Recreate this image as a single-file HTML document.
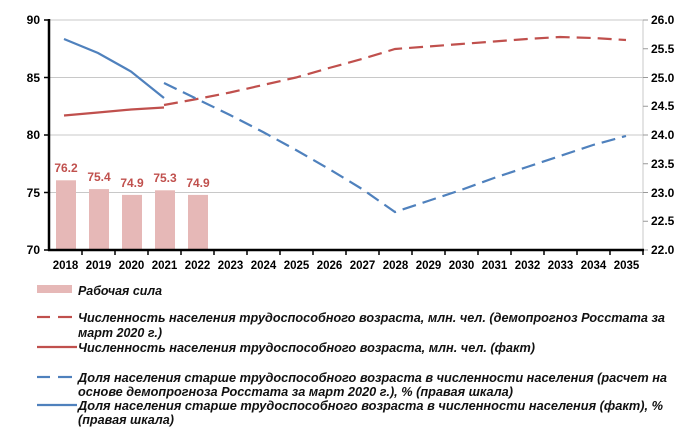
<!DOCTYPE html>
<html><head><meta charset="utf-8"><style>body{margin:0;background:#fff}svg{display:block}</style></head><body>
<svg width="700" height="428" viewBox="0 0 700 428" xmlns="http://www.w3.org/2000/svg" font-family="Liberation Sans, sans-serif">
<g stroke="#c8c8c8" stroke-width="1">
<line x1="49" y1="20" x2="643" y2="20"/><line x1="49" y1="77.5" x2="643" y2="77.5"/><line x1="49" y1="135" x2="643" y2="135"/><line x1="49" y1="192.5" x2="643" y2="192.5"/>
<line x1="643" y1="20" x2="643" y2="250"/>
</g>
<g stroke="#999" stroke-width="1">
<line x1="643" y1="20" x2="648" y2="20"/><line x1="643" y1="48.75" x2="648" y2="48.75"/><line x1="643" y1="77.5" x2="648" y2="77.5"/><line x1="643" y1="106.25" x2="648" y2="106.25"/><line x1="643" y1="135" x2="648" y2="135"/><line x1="643" y1="163.75" x2="648" y2="163.75"/><line x1="643" y1="192.5" x2="648" y2="192.5"/><line x1="643" y1="221.25" x2="648" y2="221.25"/><line x1="643" y1="250" x2="648" y2="250"/>
</g>
<g fill="#e6b8b7">
<rect x="56" y="180.3" width="20" height="69.7"/><rect x="89" y="189.1" width="20" height="60.9"/><rect x="122" y="194.9" width="20" height="55.1"/><rect x="155" y="190.3" width="20" height="59.7"/><rect x="188" y="194.9" width="20" height="55.1"/>
</g>
<g fill="#c0504d" font-size="12" font-weight="bold" text-anchor="middle">
<text x="66" y="172">76.2</text><text x="99" y="181">75.4</text><text x="132" y="187">74.9</text><text x="165" y="182">75.3</text><text x="198" y="187">74.9</text>
</g>
<g stroke="#000" stroke-width="2.5" fill="none">
<line x1="49" y1="19" x2="49" y2="251"/><line x1="48" y1="250" x2="644" y2="250"/>
</g>
<g stroke="#000" stroke-width="1.5">
<line x1="44" y1="20" x2="49" y2="20"/><line x1="44" y1="77.5" x2="49" y2="77.5"/><line x1="44" y1="135" x2="49" y2="135"/><line x1="44" y1="192.5" x2="49" y2="192.5"/><line x1="44" y1="250" x2="49" y2="250"/>
<line x1="82" y1="250" x2="82" y2="255"/><line x1="115" y1="250" x2="115" y2="255"/><line x1="148" y1="250" x2="148" y2="255"/><line x1="181" y1="250" x2="181" y2="255"/><line x1="214" y1="250" x2="214" y2="255"/><line x1="247" y1="250" x2="247" y2="255"/><line x1="280" y1="250" x2="280" y2="255"/><line x1="313" y1="250" x2="313" y2="255"/><line x1="346" y1="250" x2="346" y2="255"/><line x1="379" y1="250" x2="379" y2="255"/><line x1="412" y1="250" x2="412" y2="255"/><line x1="445" y1="250" x2="445" y2="255"/><line x1="478" y1="250" x2="478" y2="255"/><line x1="511" y1="250" x2="511" y2="255"/><line x1="544" y1="250" x2="544" y2="255"/><line x1="577" y1="250" x2="577" y2="255"/><line x1="610" y1="250" x2="610" y2="255"/><line x1="643" y1="250" x2="643" y2="255"/>
</g>
<g font-size="12" font-weight="bold" fill="#000" text-anchor="end">
<text x="40" y="24">90</text><text x="40" y="82">85</text><text x="40" y="139">80</text><text x="40" y="197">75</text><text x="40" y="254">70</text>
</g>
<g font-size="12" font-weight="bold" fill="#000">
<text x="651" y="24">26.0</text><text x="651" y="53">25.5</text><text x="651" y="82">25.0</text><text x="651" y="110">24.5</text><text x="651" y="139">24.0</text><text x="651" y="168">23.5</text><text x="651" y="197">23.0</text><text x="651" y="225">22.5</text><text x="651" y="254">22.0</text>
</g>
<g font-size="11.5" font-weight="bold" fill="#000" text-anchor="middle">
<text x="65.5" y="269">2018</text><text x="98.5" y="269">2019</text><text x="131.5" y="269">2020</text><text x="164.5" y="269">2021</text><text x="197.5" y="269">2022</text><text x="230.5" y="269">2023</text><text x="263.5" y="269">2024</text><text x="296.5" y="269">2025</text><text x="329.5" y="269">2026</text><text x="362.5" y="269">2027</text><text x="395.5" y="269">2028</text><text x="428.5" y="269">2029</text><text x="461.5" y="269">2030</text><text x="494.5" y="269">2031</text><text x="527.5" y="269">2032</text><text x="560.5" y="269">2033</text><text x="593.5" y="269">2034</text><text x="626.5" y="269">2035</text>
</g>
<g fill="none" stroke-width="2.2">
<polyline stroke="#c0504d" points="64,115.5 98,112.5 131,109.5 164,107.5"/>
<polyline stroke="#c0504d" stroke-dasharray="14,7" points="164,105 197,99 230,92.5 263,85 296,77.5 329,68 362,59 395,49 428,46.5 461,44 494,41.5 527,39 560,37 593,38 626,40"/>
<polyline stroke="#4f81bd" points="64,39 98,53 131,71.5 164,98"/>
<polyline stroke="#4f81bd" stroke-dasharray="14,7" points="164,83 197,99 230,115 263,132 296,150 329,169 362,189 395,212 428,201 461,190 494,178 527,167 560,156 593,145 626,136"/>
</g>
<rect x="37" y="285" width="35" height="8" fill="#e6b8b7"/>
<g stroke-width="2.2"><line x1="37" y1="317" x2="50" y2="317" stroke="#c0504d"/><line x1="58" y1="317" x2="72" y2="317" stroke="#c0504d"/>
<line x1="37" y1="347" x2="77" y2="347" stroke="#c0504d"/>
<line x1="37" y1="377" x2="50" y2="377" stroke="#4f81bd"/><line x1="58" y1="377" x2="72" y2="377" stroke="#4f81bd"/>
<line x1="37" y1="405" x2="77" y2="405" stroke="#4f81bd"/></g>
<g font-size="13" font-style="italic" font-weight="bold" fill="#111">
<text x="78" y="295" textLength="84" lengthAdjust="spacingAndGlyphs">Рабочая сила</text>
<text x="78" y="322" textLength="587" lengthAdjust="spacingAndGlyphs">Численность населения трудоспособного возраста, млн. чел. (демопрогноз Росстата за</text>
<text x="78" y="337" textLength="84" lengthAdjust="spacingAndGlyphs">март 2020 г.)</text>
<text x="78" y="352" textLength="457" lengthAdjust="spacingAndGlyphs">Численность населения трудоспособного возраста, млн. чел. (факт)</text>
<text x="78" y="382" textLength="589" lengthAdjust="spacingAndGlyphs">Доля населения старше трудоспособного возраста в численности населения (расчет на</text>
<text x="78" y="396" textLength="435" lengthAdjust="spacingAndGlyphs">основе демопрогноза Росстата за март 2020 г.), % (правая шкала)</text>
<text x="78" y="410" textLength="585" lengthAdjust="spacingAndGlyphs">Доля населения старше трудоспособного возраста в численности населения (факт), %</text>
<text x="78" y="424" textLength="96" lengthAdjust="spacingAndGlyphs">(правая шкала)</text>
</g>
</svg>
</body></html>
